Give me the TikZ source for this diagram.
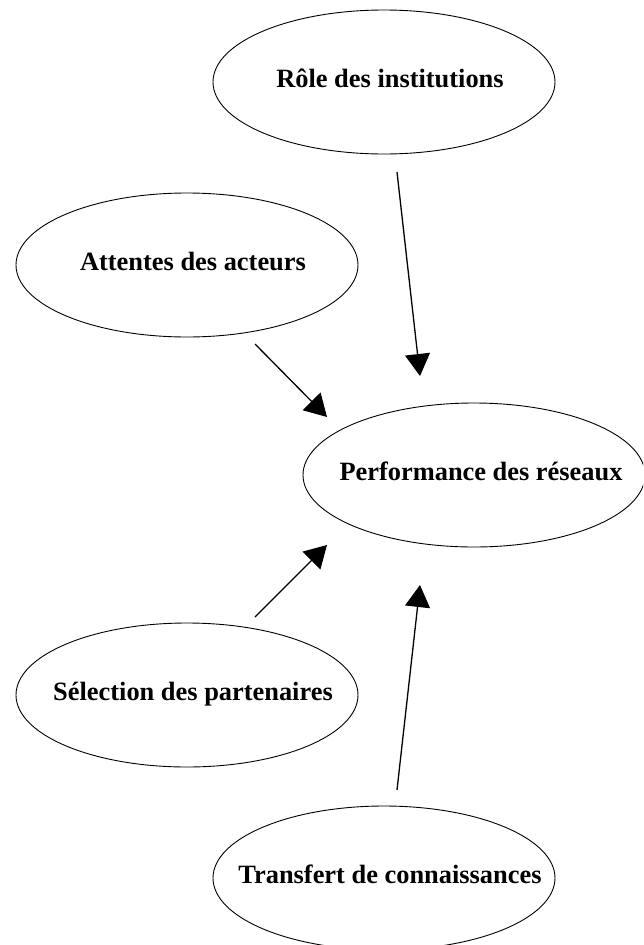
\documentclass[tikz,border=0pt]{standalone}
\usepackage{fontspec}
\setmainfont{Liberation Serif}
\usetikzlibrary{shapes.geometric,arrows.meta,calc}
\begin{document}
\begin{tikzpicture}[x=1pt,y=-1pt,
  ell/.style={draw=black, line width=0.9pt, ellipse, minimum width=342pt, minimum height=144pt, inner sep=0pt},
  lbl/.style={anchor=base, inner sep=0pt, font=\fontsize{26.4}{30}\selectfont\bfseries},
  arr/.style={line width=1.3pt, -{Triangle[length=22pt,width=25pt]}}]
\useasboundingbox (0,0) rectangle (643,945);
\clip (0,0) rectangle (643,945);
\node[ell] (role)  at (384,82)  {};
\node[ell] (att)   at (187,265) {};
\node[ell] (perf)  at (474,475) {};
\node[ell] (sel)   at (187,695) {};
\node[ell] (trans) at (384,878) {};
\node[lbl] (troleid) at ($(role.center)+(6,5.5)$) {Rôle des institutions};
\node[lbl] (tatt) at ($(att.center)+(6,5.5)$) {Attentes des acteurs};
\node[lbl] (tperf) at ($(perf.center)+(7,5.5)$) {Performance des réseaux};
\node[lbl] (tsel) at ($(sel.center)+(6,5.5)$) {Sélection des partenaires};
\node[lbl] (ttrans) at ($(trans.center)+(6,5.5)$) {Transfert de connaissances};
\coordinate (a1) at ($(role.center)+(13,90)$);
\coordinate (a2) at ($(perf.center)+(-54,-99)$);
\coordinate (b1) at ($(att.center)+(68,79)$);
\coordinate (b2) at ($(perf.center)+(-147,-58)$);
\coordinate (c1) at ($(sel.center)+(68,-78)$);
\coordinate (c2) at ($(perf.center)+(-147,70)$);
\coordinate (d1) at ($(trans.center)+(13,-88)$);
\coordinate (d2) at ($(perf.center)+(-54,110)$);
\draw[arr] (a1) -- (a2);
\draw[arr] (b1) -- (b2);
\draw[arr] (c1) -- (c2);
\draw[arr] (d1) -- (d2);
\end{tikzpicture}
\end{document}
